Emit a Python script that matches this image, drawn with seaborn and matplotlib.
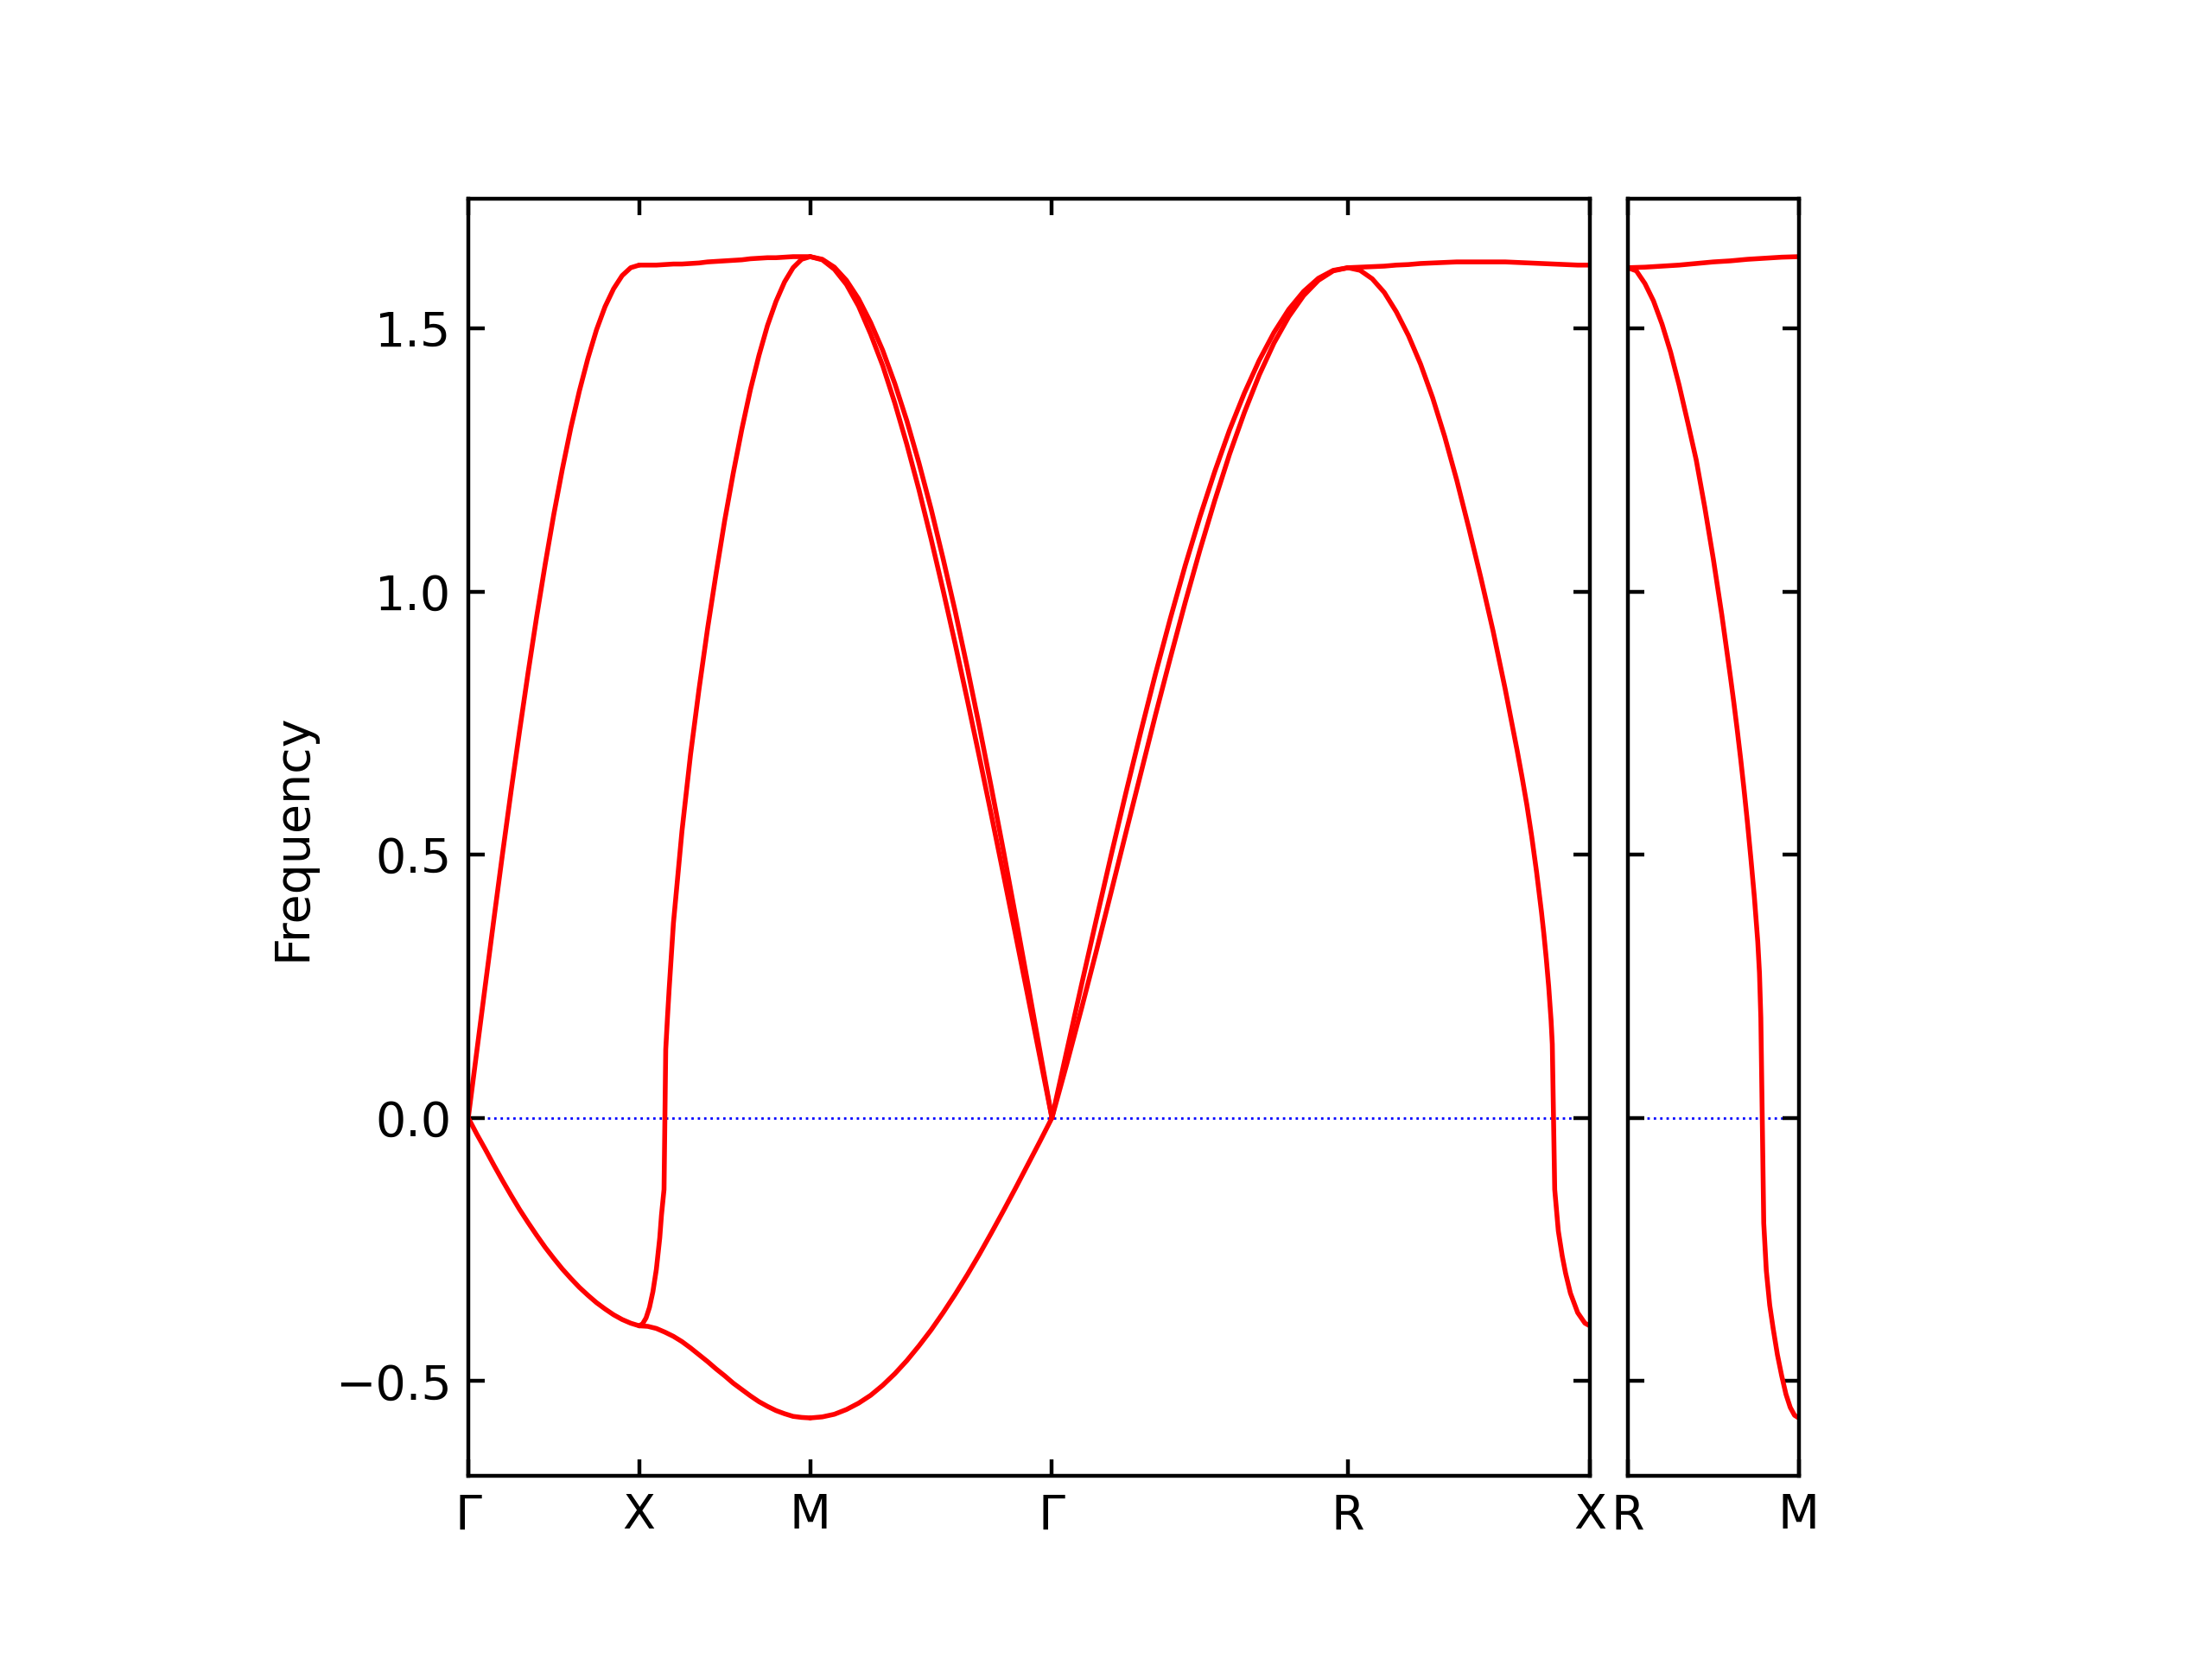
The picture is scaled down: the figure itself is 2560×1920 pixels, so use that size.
import numpy as np
import pandas as pd
import matplotlib
matplotlib.use('Agg')
import matplotlib.pyplot as plt
import seaborn as sns

# band path (distances between high symmetry points)
labels_main = ['Γ', 'X', 'M', 'Γ', 'R', 'X']
seg_len = [1.0, 1.0, 1.414, 1.732, 1.414]
labels_side = ['R', 'M']
side_len = 1.0

# fractional positions along a segment
k_even = [0.0, 0.05, 0.1, 0.15, 0.2, 0.25, 0.3, 0.35, 0.4, 0.45, 0.5,
          0.55, 0.6, 0.65, 0.7, 0.75, 0.8, 0.85, 0.9, 0.95, 1.0]
k_tenth = [0.0, 0.1, 0.2, 0.3, 0.4, 0.5, 0.6, 0.7, 0.8, 0.9, 1.0]

# Gamma - X
gx_upper = [0, 0.127, 0.253, 0.378, 0.501, 0.620, 0.735, 0.846, 0.952, 1.052, 1.146,
            1.232, 1.311, 1.381, 1.443, 1.497, 1.541, 1.575, 1.600, 1.615, 1.620]
gx_lower = [0, -0.031, -0.060, -0.090, -0.119, -0.147, -0.174, -0.199, -0.223, -0.246, -0.267,
            -0.287, -0.305, -0.322, -0.337, -0.351, -0.363, -0.374, -0.383, -0.390, -0.395]

# X - M
xm_top = [1.620, 1.620, 1.620, 1.621, 1.622, 1.622, 1.623, 1.624, 1.626, 1.627, 1.628,
          1.629, 1.630, 1.632, 1.633, 1.634, 1.634, 1.635, 1.636, 1.636, 1.636]
xm_bot = [-0.395, -0.396, -0.400, -0.407, -0.415, -0.425, -0.437, -0.450, -0.463, -0.477, -0.490,
          -0.504, -0.516, -0.528, -0.539, -0.548, -0.556, -0.562, -0.567, -0.569, -0.570]
k_xm_mid = [0, 0.02, 0.04, 0.06, 0.08, 0.10, 0.12, 0.13, 0.145, 0.155, 0.165, 0.175, 0.19, 0.20,
            0.25, 0.30, 0.35, 0.40, 0.45, 0.50, 0.55, 0.60, 0.65, 0.70, 0.75, 0.80, 0.85, 0.90, 0.95, 1.0]
xm_mid = [-0.395, -0.391, -0.380, -0.360, -0.330, -0.288, -0.228, -0.185, -0.136, 0.130, 0.190,
          0.245, 0.320, 0.370, 0.545, 0.690, 0.815, 0.930, 1.035, 1.135, 1.225, 1.308, 1.383,
          1.448, 1.505, 1.551, 1.588, 1.615, 1.631, 1.636]

# M - Gamma
mg_up1 = [1.636, 1.631, 1.616, 1.591, 1.556, 1.511, 1.458, 1.395, 1.324, 1.244, 1.157,
          1.062, 0.962, 0.855, 0.743, 0.626, 0.506, 0.382, 0.256, 0.128, 0]
mg_up2 = [1.636, 1.630, 1.612, 1.583, 1.542, 1.489, 1.429, 1.358, 1.279, 1.193, 1.100,
          1.002, 0.900, 0.794, 0.685, 0.574, 0.461, 0.347, 0.232, 0.116, 0]
mg_low = [-0.570, -0.568, -0.563, -0.554, -0.542, -0.527, -0.508, -0.486, -0.461, -0.433, -0.403,
          -0.370, -0.335, -0.298, -0.259, -0.218, -0.176, -0.133, -0.089, -0.045, 0]

# Gamma - R
gr_up1 = [0, 0.127, 0.253, 0.377, 0.499, 0.618, 0.733, 0.844, 0.949, 1.049, 1.142,
          1.228, 1.307, 1.377, 1.439, 1.492, 1.536, 1.570, 1.595, 1.610, 1.615]
gr_up2 = [0, 0.102, 0.208, 0.317, 0.429, 0.542, 0.654, 0.766, 0.874, 0.979, 1.079,
          1.173, 1.261, 1.340, 1.411, 1.472, 1.522, 1.562, 1.591, 1.609, 1.615]

# R - X
rx_top = [1.615, 1.616, 1.617, 1.618, 1.620, 1.621, 1.623, 1.624, 1.625, 1.626, 1.626,
          1.626, 1.626, 1.626, 1.625, 1.624, 1.623, 1.622, 1.621, 1.620, 1.620]
k_rx_mid = [0, 0.05, 0.1, 0.15, 0.2, 0.25, 0.3, 0.35, 0.4, 0.45, 0.5, 0.55, 0.6, 0.65, 0.7,
            0.72, 0.74, 0.76, 0.78, 0.80, 0.81, 0.82, 0.83, 0.84, 0.845, 0.855, 0.87, 0.886,
            0.9, 0.92, 0.95, 0.98, 1.0]
rx_mid = [1.615, 1.610, 1.594, 1.568, 1.531, 1.486, 1.432, 1.368, 1.294, 1.211, 1.120,
          1.025, 0.925, 0.815, 0.697, 0.647, 0.594, 0.534, 0.467, 0.392, 0.350, 0.303,
          0.250, 0.185, 0.140, -0.136, -0.215, -0.262, -0.295, -0.333, -0.370, -0.390, -0.395]

# R - M (side panel)
rm_top = [1.615, 1.616, 1.618, 1.620, 1.623, 1.626, 1.628, 1.631, 1.633, 1.635, 1.636]
k_rm_mid = [0, 0.05, 0.1, 0.15, 0.2, 0.25, 0.3, 0.35, 0.4, 0.45, 0.5, 0.55, 0.6, 0.62, 0.64,
            0.66, 0.68, 0.70, 0.72, 0.74, 0.76, 0.77, 0.778, 0.795, 0.81, 0.83, 0.85, 0.875,
            0.9, 0.925, 0.95, 0.975, 1.0]
rm_mid = [1.615, 1.609, 1.585, 1.552, 1.508, 1.455, 1.392, 1.322, 1.250, 1.160, 1.062,
          0.955, 0.838, 0.789, 0.737, 0.682, 0.623, 0.560, 0.492, 0.420, 0.335, 0.275,
          0.190, -0.200, -0.290, -0.356, -0.400, -0.450, -0.490, -0.525, -0.550, -0.565, -0.570]

# build long table
starts = np.concatenate([[0], np.cumsum(seg_len)])
bands = [
    ('main', 0, k_even, gx_upper), ('main', 0, k_even, gx_lower),
    ('main', 1, k_even, xm_top), ('main', 1, k_even, xm_bot), ('main', 1, k_xm_mid, xm_mid),
    ('main', 2, k_even, mg_up1), ('main', 2, k_even, mg_up2), ('main', 2, k_even, mg_low),
    ('main', 3, k_even, gr_up1), ('main', 3, k_even, gr_up2),
    ('main', 4, k_even, rx_top), ('main', 4, k_rx_mid, rx_mid),
    ('side', 0, k_tenth, rm_top), ('side', 0, k_rm_mid, rm_mid),
]
rows = []
for i, (panel, seg, k, f) in enumerate(bands):
    if panel == 'main':
        x0, L = starts[seg], seg_len[seg]
    else:
        x0, L = 0.0, side_len
    for kk, ff in zip(k, f):
        rows.append({'panel': panel, 'line': i, 'distance': x0 + kk * L, 'frequency': ff})
df = pd.DataFrame(rows)

sns.set_style('ticks', rc={'axes.edgecolor': 'black', 'xtick.color': 'black',
                           'ytick.color': 'black', 'text.color': 'black',
                           'axes.labelcolor': 'black'})
plt.rcParams['font.family'] = ['DejaVu Sans']

fig = plt.figure(figsize=(6.4, 4.8), dpi=400)
ax1 = fig.add_axes([0.2117, 0.1104, 0.5070, 0.7698])
ax2 = fig.add_axes([0.7359, 0.1104, 0.0773, 0.7698])

sns.lineplot(data=df[df.panel == 'main'], x='distance', y='frequency', units='line',
             estimator=None, sort=False, color='red', linewidth=1.0, ax=ax1)
sns.lineplot(data=df[df.panel == 'side'], x='distance', y='frequency', units='line',
             estimator=None, sort=False, color='red', linewidth=1.0, ax=ax2)

for ax in (ax1, ax2):
    ax.axhline(0, color='blue', linestyle=':', linewidth=0.5, zorder=0)
    ax.set_ylim(-0.68, 1.746)
    ax.tick_params(direction='in', length=3.5, width=0.8, top=True, right=True,
                   labelsize=10)
    ax.set_xlabel('')
    for sp in ax.spines.values():
        sp.set_linewidth(0.8)
        sp.set_visible(True)

ax1.set_xlim(0, starts[-1])
ax1.set_xticks(starts)
ax1.set_xticklabels(labels_main)
ax1.set_yticks([-0.5, 0.0, 0.5, 1.0, 1.5])
ax1.set_ylabel('Frequency', fontsize=10)

ax2.set_xlim(0, side_len)
ax2.set_xticks([0, side_len])
ax2.set_xticklabels(labels_side)
ax2.set_yticks([-0.5, 0.0, 0.5, 1.0, 1.5])
ax2.set_ylabel('')
ax2.tick_params(labelleft=False)

fig.savefig('out.png', dpi=400)
